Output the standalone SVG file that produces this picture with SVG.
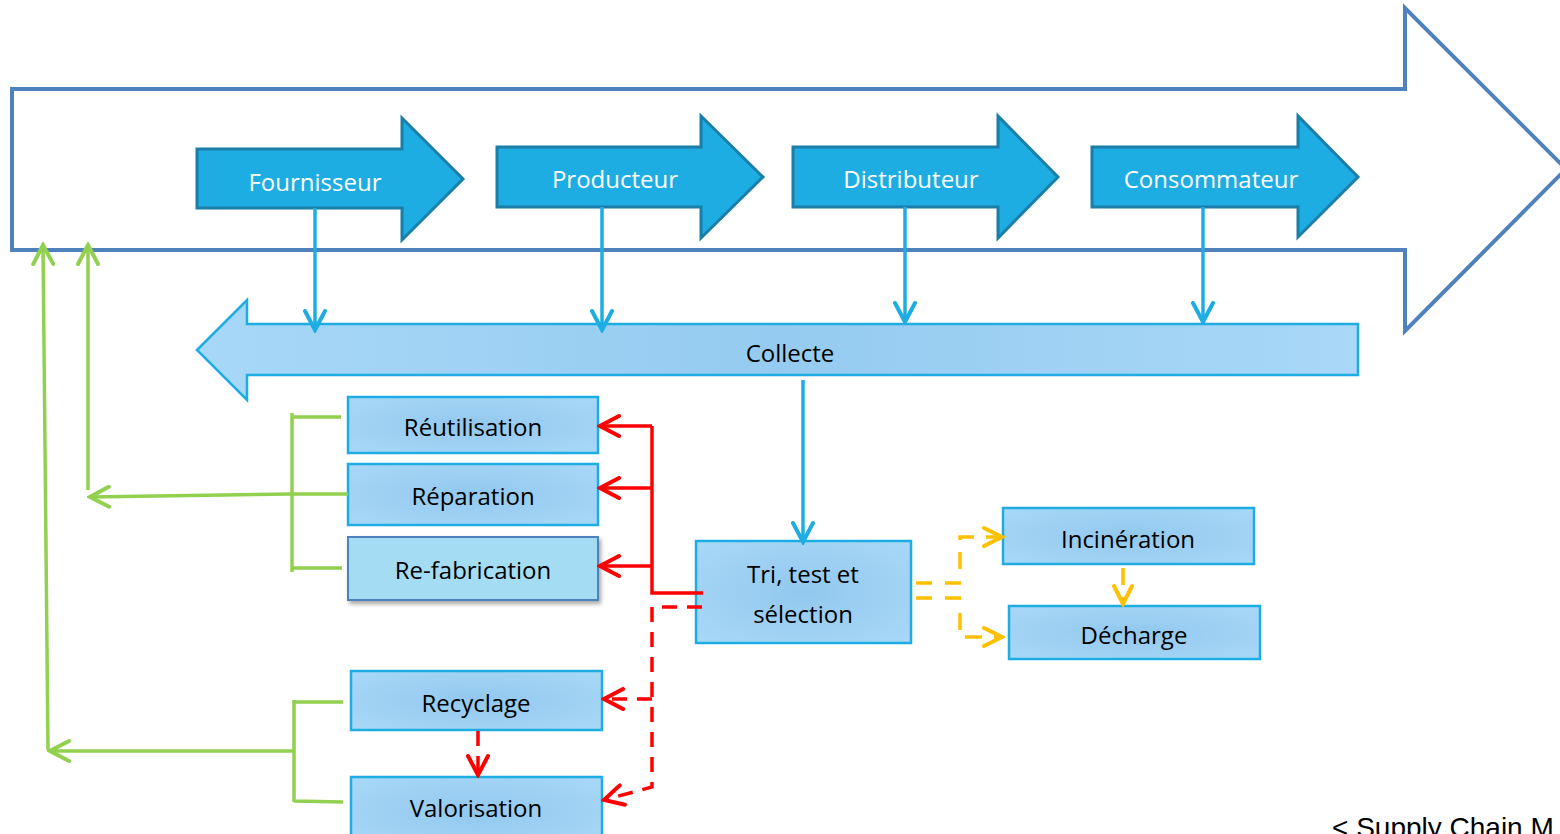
<svg xmlns="http://www.w3.org/2000/svg" width="1560" height="834" viewBox="0 0 1560 834">
<style>
.lbl{font-family:"Open Sans","Liberation Sans",sans-serif;font-size:24px;text-anchor:middle;fill:#000}
.wlbl{font-family:"Open Sans","Liberation Sans",sans-serif;font-size:24px;text-anchor:middle;fill:#fff}
.stage{fill:#1EADE3;stroke:#1A7EA8;stroke-width:3}
.box{fill:url(#boxg);stroke:#1EADE3;stroke-width:2.5}
.blue{stroke:#1EADE3;stroke-width:3.5;fill:none}
.green{stroke:#92D050;stroke-width:3.5;fill:none}
.red{stroke:#FF0000;stroke-width:3.5;fill:none}
.reddash{stroke:#FF0000;stroke-width:3.5;fill:none;stroke-dasharray:15 10}
.yel{stroke:#FFC000;stroke-width:3.5;fill:none;stroke-dasharray:17 12}
</style>
<defs>
<radialGradient id="boxg" cx="0.5" cy="0.5" r="0.7">
<stop offset="0" stop-color="#92C8EE"/>
<stop offset="1" stop-color="#A9D8F8"/>
</radialGradient>
<linearGradient id="colg" x1="0" y1="0" x2="1" y2="0">
<stop offset="0" stop-color="#A8D8F8"/>
<stop offset="0.5" stop-color="#95CBF0"/>
<stop offset="1" stop-color="#A9D8F8"/>
</linearGradient>
<filter id="sh" x="-10%" y="-10%" width="130%" height="140%">
<feDropShadow dx="2" dy="3" stdDeviation="2" flood-color="#000" flood-opacity="0.35"/>
</filter>
<marker id="ab" viewBox="0 0 24 24" refX="21" refY="12" markerWidth="24" markerHeight="24" markerUnits="userSpaceOnUse" orient="auto">
<path d="M2,2 L21,12 L2,22" fill="none" stroke="#1EADE3" stroke-width="4" stroke-linecap="round" stroke-dasharray="none"/>
</marker>
<marker id="ag" viewBox="0 0 24 24" refX="21" refY="12" markerWidth="24" markerHeight="24" markerUnits="userSpaceOnUse" orient="auto">
<path d="M2,2 L21,12 L2,22" fill="none" stroke="#92D050" stroke-width="4" stroke-linecap="round" stroke-dasharray="none"/>
</marker>
<marker id="ar" viewBox="0 0 24 24" refX="21" refY="12" markerWidth="24" markerHeight="24" markerUnits="userSpaceOnUse" orient="auto">
<path d="M2,2 L21,12 L2,22" fill="none" stroke="#FF0000" stroke-width="4" stroke-linecap="round" stroke-dasharray="none"/>
</marker>
<marker id="ay" viewBox="0 0 24 24" refX="21" refY="12" markerWidth="24" markerHeight="24" markerUnits="userSpaceOnUse" orient="auto">
<path d="M3,3 L21,12 L3,21" fill="none" stroke="#FFC000" stroke-width="4" stroke-linecap="round" stroke-dasharray="none"/>
</marker>
</defs>

<g id="chain">
<path d="M12,89 L1405,89 L1405,8 L1566,169 L1405,331 L1405,250 L12,250 Z" fill="#fff" stroke="#4F81BD" stroke-width="4"/>
</g>

<g id="fournisseur">
<path class="stage" d="M197,149 L402,149 L402,118 L463,179 L402,240 L402,208 L197,208 Z"/>
<text class="wlbl" x="315" y="191">Fournisseur</text>
</g>
<g id="producteur">
<path class="stage" d="M497,147 L701,147 L701,116 L763,177 L701,238 L701,207 L497,207 Z"/>
<text class="wlbl" x="615" y="188">Producteur</text>
</g>
<g id="distributeur">
<path class="stage" d="M793,147 L998,147 L998,116 L1058,177 L998,238 L998,207 L793,207 Z"/>
<text class="wlbl" x="911" y="188">Distributeur</text>
</g>
<g id="consommateur">
<path class="stage" d="M1092,147 L1298,147 L1298,116 L1358,177 L1298,237 L1298,207 L1092,207 Z"/>
<text class="wlbl" x="1211" y="188">Consommateur</text>
</g>

<g id="collecte">
<path d="M197,350 L247,300 L247,324 L1358,324 L1358,375 L247,375 L247,400 Z" fill="url(#colg)" stroke="#1EADE3" stroke-width="2.5"/>
<text class="lbl" x="790" y="362">Collecte</text>
</g>

<g id="reutilisation">
<rect class="box" x="348" y="397" width="250" height="56"/>
<text class="lbl" x="473" y="436">Réutilisation</text>
</g>
<g id="reparation">
<rect class="box" x="348" y="464" width="250" height="61"/>
<text class="lbl" x="473" y="505">Réparation</text>
</g>
<g id="refabrication">
<rect x="348" y="537" width="250" height="63" fill="#A4DDF3" stroke="#4F81BD" stroke-width="2" filter="url(#sh)"/>
<text class="lbl" x="473" y="579">Re-fabrication</text>
</g>
<g id="tri">
<rect class="box" x="696" y="541" width="215" height="102"/>
<text class="lbl" x="803" y="583">Tri, test et</text>
<text class="lbl" x="803" y="623">sélection</text>
</g>
<g id="incineration">
<rect class="box" x="1003" y="508" width="251" height="56"/>
<text class="lbl" x="1128" y="548">Incinération</text>
</g>
<g id="decharge">
<rect class="box" x="1009" y="606" width="251" height="53"/>
<text class="lbl" x="1134" y="644">Décharge</text>
</g>
<g id="recyclage">
<rect class="box" x="351" y="671" width="251" height="59"/>
<text class="lbl" x="476" y="712">Recyclage</text>
</g>
<g id="valorisation">
<rect class="box" x="351" y="777" width="251" height="70"/>
<text class="lbl" x="476" y="817">Valorisation</text>
</g>

<g id="connectors">
<path class="blue" d="M315,208 L315,330" marker-end="url(#ab)"/>
<path class="blue" d="M602,207 L602,330" marker-end="url(#ab)"/>
<path class="blue" d="M905,207 L905,322" marker-end="url(#ab)"/>
<path class="blue" d="M1203,207 L1203,322" marker-end="url(#ab)"/>
<path class="blue" d="M803,380 L803,542" marker-end="url(#ab)"/>

<path class="green" d="M341,417 L292,417 M292,413 L292,572 M292,568 L342,568 M348,494 L292,494"/>
<path class="green" d="M292,494 L90,497" marker-end="url(#ag)"/>
<path class="green" d="M88,490 L88,245" marker-end="url(#ag)"/>
<path class="green" d="M343,702 L294,702 M294,700 L294,802 M294,801 L343,802"/>
<path class="green" d="M294,751 L50,751" marker-end="url(#ag)"/>
<path class="green" d="M48,750 L43,245" marker-end="url(#ag)"/>

<path class="red" d="M652,426 L652,593 L703,593"/>
<path class="red" d="M652,426 L600,426" marker-end="url(#ar)"/>
<path class="red" d="M652,488 L600,488" marker-end="url(#ar)"/>
<path class="red" d="M652,566 L600,566" marker-end="url(#ar)"/>
<path class="reddash" d="M702,607 L652,607 L652,787 L604,800" marker-end="url(#ar)"/>
<path class="reddash" d="M652,699 L604,699" marker-end="url(#ar)"/>
<path class="reddash" d="M478,731 L478,775" marker-end="url(#ar)"/>

<path class="yel" d="M916,583 L961,583 M916,598 L961,598" style="stroke-dasharray:16 13"/>
<path class="yel" d="M960,569 L960,537 L1002,537" marker-end="url(#ay)"/>
<path class="yel" d="M960,613 L960,637 L1002,637" marker-end="url(#ay)"/>
<path class="yel" d="M1123,568 L1123,604" marker-end="url(#ay)"/>
</g>

<text x="1332" y="837" font-family="'Liberation Sans',Arial,sans-serif" font-size="28" fill="#000">&lt; Supply Chain M</text>
</svg>
